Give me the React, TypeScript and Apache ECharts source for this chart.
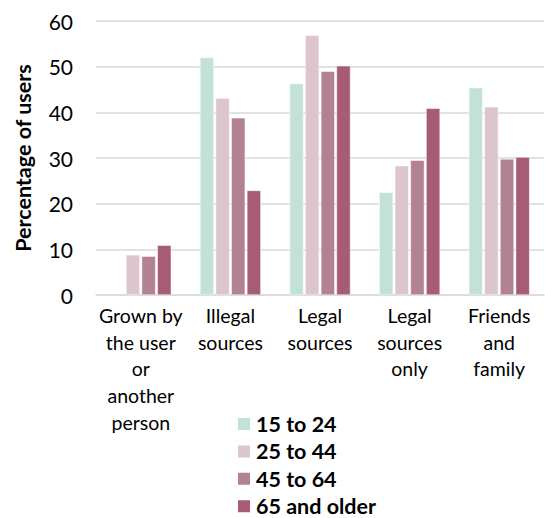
import React, { useEffect, useRef } from "react";
import * as echarts from "echarts";

const categories = [
  "Grown by\nthe user\nor\nanother\nperson",
  "Illegal\nsources",
  "Legal\nsources",
  "Legal\nsources\nonly",
  "Friends\nand\nfamily",
];
const seriesNames = ["15 to 24", "25 to 44", "45 to 64", "65 and older"];
const age15to24 = [null, 52.0, 46.3, 22.5, 45.4];
const age25to44 = [8.8, 43.1, 56.9, 28.3, 41.2];
const age45to64 = [8.5, 38.8, 49.0, 29.5, 29.8];
const age65plus = [10.9, 22.9, 50.2, 40.9, 30.2];
const colors = ["#c3e2d6", "#dcc5cf", "#b38290", "#a65c75"];

const FONT = "Lato, 'Open Sans', sans-serif";

export default function App() {
  const ref = useRef<HTMLDivElement>(null);
  useEffect(() => {
    if (!ref.current) return;
    const chart = echarts.init(ref.current, null, { renderer: "svg" });
    const data = [age15to24, age25to44, age45to64, age65plus];
    chart.setOption({
      animation: false,
      textStyle: { fontFamily: FONT },
      grid: {
        left: 96,
        right: 1,
        top: 21,
        bottom: 223,
        containLabel: false,
        outerBoundsMode: "none",
      },
      legend: {
        orient: "vertical",
        left: 236,
        top: 413,
        height: 130,
        padding: 0,
        itemWidth: 14,
        itemHeight: 14,
        itemGap: 5.4,
        icon: "rect",
        textStyle: {
          fontFamily: FONT,
          fontSize: 21.5,
          fontWeight: "bold",
          color: "#000",
        },
        data: seriesNames,
      },
      xAxis: {
        type: "category",
        data: categories,
        axisLine: { lineStyle: { color: "#d9d9d9", width: 1.5 } },
        axisTick: { show: false },
        axisLabel: {
          interval: 0,
          fontFamily: FONT,
          fontSize: 19.5,
          color: "#000",
          lineHeight: 26.7,
          margin: 7,
        },
      },
      yAxis: {
        type: "value",
        min: 0,
        max: 60,
        interval: 10,
        name: "Percentage of users",
        nameLocation: "middle",
        nameGap: 62,
        nameMoveOverlap: false,
        nameTextStyle: { fontFamily: FONT, fontSize: 21.5, fontWeight: "bold", color: "#000" },
        axisLabel: { fontFamily: FONT, fontSize: 21, color: "#000", margin: 23 },
        splitLine: { lineStyle: { color: "#d9d9d9", width: 1.5 } },
        axisLine: { show: false },
        axisTick: { show: false },
      },
      series: seriesNames.map((name, i) => ({
        name,
        type: "bar",
        data: data[i],
        barGap: "12%",
        barCategoryGap: "32%",
        itemStyle: { color: colors[i], borderColor: "#fff", borderWidth: 0.5 },
      })),
    });
    return () => chart.dispose();
  }, []);
  return (
    <div
      ref={ref}
      style={{ position: "fixed", left: 0, top: 0, width: 545, height: 518, background: "#fff" }}
    />
  );
}
